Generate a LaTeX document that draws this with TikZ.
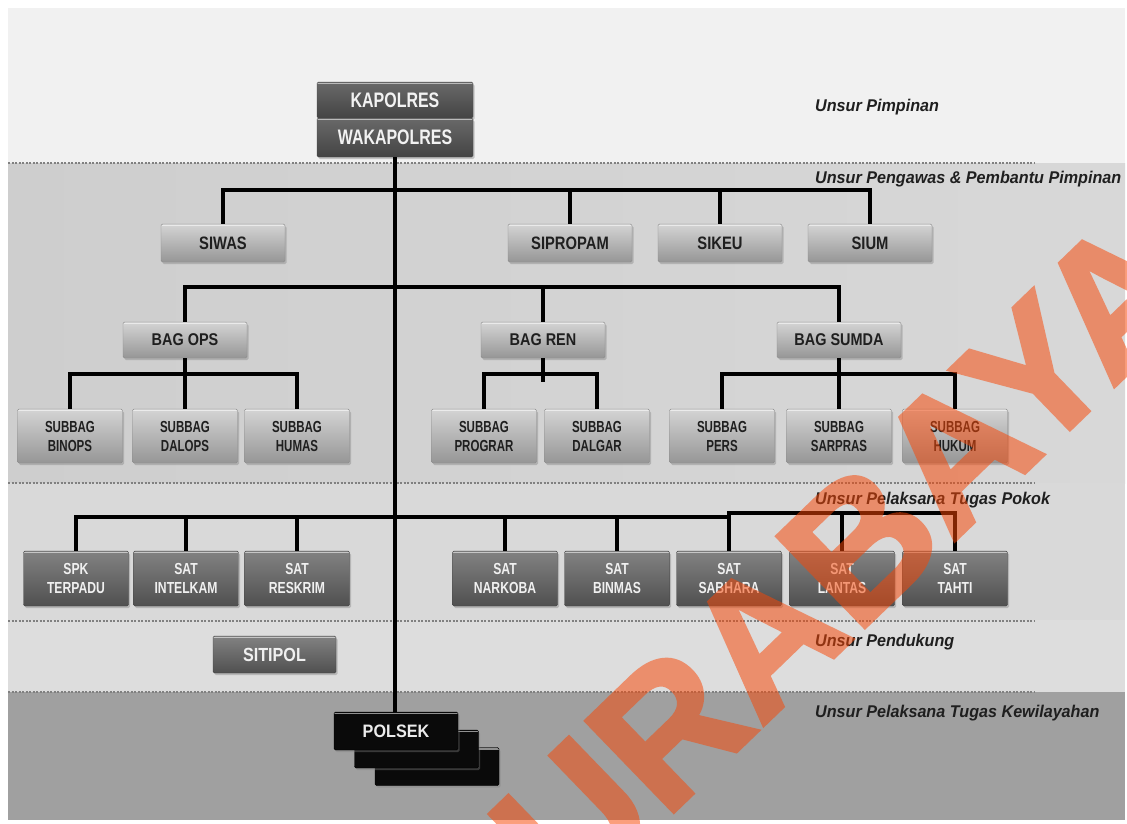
\documentclass[tikz,border=0pt]{standalone}
\usepackage{fontspec}
\setmainfont{Liberation Sans}
\usetikzlibrary{shadows}
\definecolor{bandA}{RGB}{241,241,241}
\definecolor{bandBl}{RGB}{206,206,206}
\definecolor{bandBr}{RGB}{216,216,216}
\definecolor{bandC}{RGB}{217,217,217}
\definecolor{bandD}{RGB}{221,221,221}
\definecolor{bandE}{RGB}{160,160,160}
\definecolor{dotcol}{RGB}{128,128,128}
\definecolor{lbtop}{RGB}{212,212,212}
\definecolor{lbbot}{RGB}{150,150,150}
\definecolor{lbdraw}{RGB}{140,140,140}
\definecolor{dbtop}{RGB}{130,130,130}
\definecolor{dbbot}{RGB}{80,80,80}
\definecolor{dbdraw}{RGB}{70,70,70}
\definecolor{kbtop}{RGB}{105,105,105}
\definecolor{kbbot}{RGB}{68,68,68}
\definecolor{wmcol}{RGB}{248,70,5}
\newcommand{\cnd}[1]{\addfontfeature{FakeStretch=#1}}
\tikzset{
  box/.style={rectangle, rounded corners=1.5pt, inner sep=0pt, align=center,
    drop shadow={shadow xshift=1.5pt,shadow yshift=-2pt,opacity=0.4},
    path picture={\draw[white,opacity=0.55,line width=1.2pt]
      ([yshift=-1.5pt]path picture bounding box.north west) --
      ([yshift=-1.5pt]path picture bounding box.north east);}},
  lightbox/.style={box, top color=lbtop, bottom color=lbbot, draw=lbdraw, line width=0.4pt, text=black!88},
  darkbox/.style={box, top color=dbtop, bottom color=dbbot, draw=dbdraw, line width=0.4pt, text=white!94!black},
  topbox/.style={box, top color=kbtop, bottom color=kbbot, draw=black!70, line width=0.4pt, text=white!95!black,
    minimum width=156pt, font=\fontsize{21}{23}\selectfont\bfseries\cnd{0.76}},
  blackbox/.style={box, fill=black!96, draw=black, line width=0.4pt, text=white!92!black,
    minimum width=124pt, minimum height=38pt, font=\fontsize{18}{20}\selectfont\bfseries\cnd{0.9}},
  lvone/.style={lightbox, minimum width=124pt, minimum height=38pt, font=\fontsize{18}{20}\selectfont\bfseries\cnd{0.82}},
  lvbag/.style={lightbox, minimum width=124pt, minimum height=36pt, font=\fontsize{17}{20}\selectfont\bfseries\cnd{0.85}},
  lvsub/.style={lightbox, minimum width=105pt, minimum height=54pt, font=\fontsize{16}{19}\selectfont\bfseries\cnd{0.72}},
  lvsat/.style={darkbox, minimum width=105pt, minimum height=55pt, font=\fontsize{16}{19}\selectfont\bfseries\cnd{0.76}},
  lvsup/.style={darkbox, minimum width=123pt, minimum height=37pt, font=\fontsize{19}{21}\selectfont\bfseries\cnd{0.85}},
  conn/.style={line width=3.5pt, black},
  dotline/.style={dotcol, line width=1.3pt, dash pattern=on 2pt off 1.5pt},
  lab/.style={anchor=base west, inner sep=0pt, text=black!88,
    font=\fontsize{17}{20}\selectfont\bfseries\itshape\cnd{0.95}}
}
\begin{document}
\begin{tikzpicture}[x=1pt,y={(0pt,-1pt)}]
\useasboundingbox (0,0) rectangle (1127,823);
\fill[white] (0,0) rectangle (1127,823);
% bands
\fill[bandA] (8,8) rectangle (1125,163);
\shade[left color=bandBl, right color=bandBr] (8,163) rectangle (1125,483);
\fill[bandC] (8,483) rectangle (1125,620);
\fill[bandD] (8,620) rectangle (1125,692);
\fill[bandE] (8,692) rectangle (1125,820);
\draw[dotline] (8,163) -- (1035,163);
\draw[dotline] (8,483) -- (1035,483);
\draw[dotline] (8,621) -- (1035,621);
\draw[dotline] (8,692) -- (1035,692);
% band labels
\node[lab] (l1) at (815,111) {Unsur Pimpinan};
\node[lab] (l2) at (815,183) {Unsur Pengawas \& Pembantu Pimpinan};
\node[lab] (l3) at (815,504) {Unsur Pelaksana Tugas Pokok};
\node[lab] (l4) at (815,646) {Unsur Pendukung};
\node[lab] (l5) at (815,717) {Unsur Pelaksana Tugas Kewilayahan};
% bus levels
\coordinate (b1) at (0,190);
\coordinate (b2) at (0,287);
\coordinate (b3) at (0,374);
\coordinate (b3r) at (0,382);
\coordinate (b4) at (0,517);
\coordinate (b4r) at (0,513);
% top
\node[topbox, minimum height=36pt] (kapolres) at (395,100) {KAPOLRES};
\node[topbox, minimum height=39pt] (wakapolres) at (395,137.5) {WAKAPOLRES};
% level 1
\node[lvone] (siwas) at (223,243) {SIWAS};
\node[lvone] (sipropam) at (570,243) {SIPROPAM};
\node[lvone] (sikeu) at (720,243) {SIKEU};
\node[lvone] (sium) at (870,243) {SIUM};
% level 2
\node[lvbag] (bagops) at (185,340) {BAG OPS};
\node[lvbag] (bagren) at (543,340) {BAG REN};
\node[lvbag] (bagsumda) at (839,340) {BAG SUMDA};
% subbag
\node[lvsub] (binops) at (70,436) {SUBBAG\\BINOPS};
\node[lvsub] (dalops) at (185,436) {SUBBAG\\DALOPS};
\node[lvsub] (humas) at (297,436) {SUBBAG\\HUMAS};
\node[lvsub] (prograr) at (484,436) {SUBBAG\\PROGRAR};
\node[lvsub] (dalgar) at (597,436) {SUBBAG\\DALGAR};
\node[lvsub] (pers) at (722,436) {SUBBAG\\PERS};
\node[lvsub] (sarpras) at (839,436) {SUBBAG\\SARPRAS};
\node[lvsub] (hukum) at (955,436) {SUBBAG\\HUKUM};
% level 3
\node[lvsat] (spk) at (76,578.5) {SPK\\TERPADU};
\node[lvsat] (intelkam) at (186,578.5) {SAT\\INTELKAM};
\node[lvsat] (reskrim) at (297,578.5) {SAT\\RESKRIM};
\node[lvsat] (narkoba) at (505,578.5) {SAT\\NARKOBA};
\node[lvsat] (binmas) at (617,578.5) {SAT\\BINMAS};
\node[lvsat] (sabhara) at (729,578.5) {SAT\\SABHARA};
\node[lvsat] (lantas) at (842,578.5) {SAT\\LANTAS};
\node[lvsat] (tahti) at (955,578.5) {SAT\\TAHTI};
% support
\node[lvsup] (sitipol) at (274.5,654.5) {SITIPOL};
% polsek stack
\node[blackbox] (polsekc) at (437,766.5) {};
\node[blackbox] (polsekb) at (416.5,749) {};
\node[blackbox] (polsek) at (396,731) {POLSEK};
% connectors
\draw[conn] (wakapolres.south) -- (wakapolres.south |- polsek.north);
\draw[conn] (siwas.north) |- (sium.north |- b1) -- (sium.north);
\draw[conn] (sipropam.north) -- (sipropam.north |- b1);
\draw[conn] (sikeu.north) -- (sikeu.north |- b1);
\draw[conn] (bagops.north) |- (bagsumda.north |- b2) -- (bagsumda.north);
\draw[conn] (bagren.north) -- (bagren.north |- b2);
\draw[conn] (binops.north) |- (humas.north |- b3) -- (humas.north);
\draw[conn] (bagops.south) -- (dalops.north);
\draw[conn] (prograr.north) |- (dalgar.north |- b3) -- (dalgar.north);
\draw[conn] (bagren.south) -- (bagren.south |- b3r);
\draw[conn] (pers.north) |- (hukum.north |- b3) -- (hukum.north);
\draw[conn] (bagsumda.south) -- (sarpras.north);
\draw[conn] (spk.north) |- (sabhara.north |- b4);
\draw[conn] (sabhara.north) |- (tahti.north |- b4r) -- (tahti.north);
\draw[conn] (intelkam.north) -- (intelkam.north |- b4);
\draw[conn] (reskrim.north) -- (reskrim.north |- b4);
\draw[conn] (narkoba.north) -- (narkoba.north |- b4);
\draw[conn] (binmas.north) -- (binmas.north |- b4);
\draw[conn] (lantas.north) -- (lantas.north |- b4r);
% watermark
\begin{scope}
\clip (0,0) rectangle (1127,823);
\begin{scope}[transparency group, opacity=0.52]
\node[rotate=44, inner sep=0pt, text=wmcol,
  font=\fontsize{184}{184}\selectfont\bfseries\addfontfeature{FakeBold=2}] (wm) at (800,602) {SURABAYA};
\end{scope}
\end{scope}
\end{tikzpicture}
\end{document}
